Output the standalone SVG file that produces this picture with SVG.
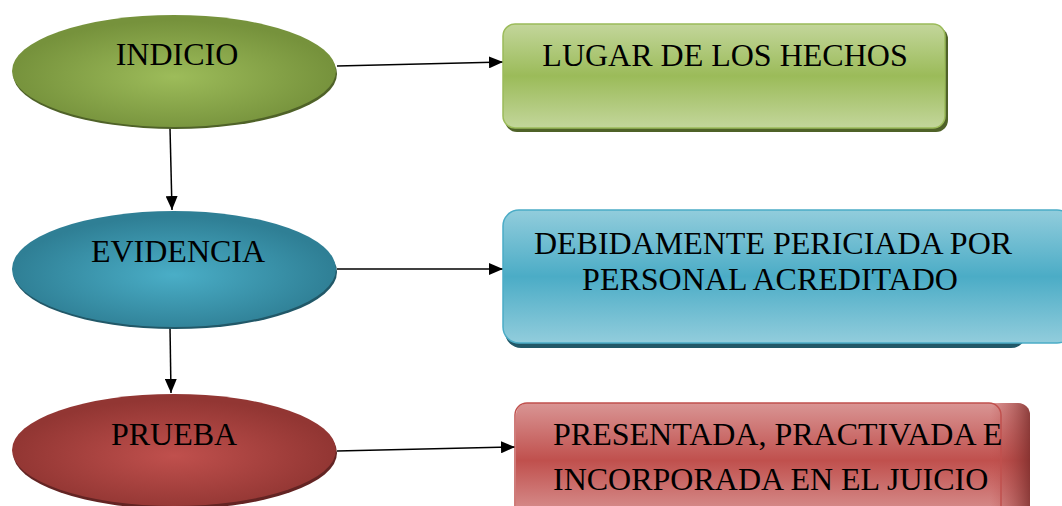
<svg xmlns="http://www.w3.org/2000/svg" width="1062" height="506" viewBox="0 0 1062 506">
<defs>
<radialGradient id="gE" cx="0.5" cy="0.55" r="0.5"><stop offset="0" stop-color="#9dbc5a"/><stop offset="1" stop-color="#76923c"/></radialGradient>
<radialGradient id="bE" cx="0.5" cy="0.55" r="0.5"><stop offset="0" stop-color="#4aaec7"/><stop offset="1" stop-color="#2f7f95"/></radialGradient>
<radialGradient id="rE" cx="0.5" cy="0.55" r="0.5"><stop offset="0" stop-color="#c0504d"/><stop offset="1" stop-color="#923633"/></radialGradient>
<linearGradient id="gR" x1="0" y1="0" x2="0" y2="1"><stop offset="0" stop-color="#c3d69b"/><stop offset="0.5" stop-color="#9bbb59"/><stop offset="1" stop-color="#c3d69b"/></linearGradient>
<linearGradient id="bR" x1="0" y1="0" x2="0" y2="1"><stop offset="0" stop-color="#92cddc"/><stop offset="0.5" stop-color="#4bacc6"/><stop offset="1" stop-color="#92cddc"/></linearGradient>
<linearGradient id="rR" x1="0" y1="0" x2="0" y2="1"><stop offset="0" stop-color="#d99594"/><stop offset="0.5" stop-color="#c0504d"/><stop offset="1" stop-color="#d99594"/></linearGradient>
<linearGradient id="rEdge" x1="0" y1="0" x2="1" y2="0"><stop offset="0" stop-color="#c0504d" stop-opacity="0"/><stop offset="1" stop-color="#7a2b29" stop-opacity="0.8"/></linearGradient>
<marker id="ah" markerWidth="14" markerHeight="12" refX="14" refY="6" orient="auto" markerUnits="userSpaceOnUse"><path d="M0,0 L14,6 L0,12 Z" fill="#000"/></marker>
</defs>
<style>
text{font-family:"Liberation Serif","Times New Roman",serif;font-size:32px;fill:#000}
.c{stroke:#000;stroke-width:1.5;fill:none;marker-end:url(#ah)}
</style>
<rect width="1062" height="506" fill="#fff"/>
<g id="connectors">
<line class="c" x1="337" y1="66" x2="503" y2="62"/>
<line class="c" x1="170" y1="128" x2="172" y2="210"/>
<line class="c" x1="337" y1="269" x2="503" y2="269"/>
<line class="c" x1="170" y1="327" x2="171" y2="393"/>
<line class="c" x1="337" y1="451" x2="515" y2="447"/>
</g>
<g id="indicio">
<ellipse cx="175" cy="74" rx="162" ry="55" fill="#4f6228"/>
<ellipse cx="174" cy="71" rx="162" ry="56" fill="url(#gE)"/>
<text x="177" y="65" text-anchor="middle">INDICIO</text>
</g>
<g id="lugar">
<rect x="505" y="27" width="443" height="105" rx="12" fill="#4f6228"/>
<rect x="503" y="24" width="442" height="104" rx="12" fill="url(#gR)" stroke="#9bbb59" stroke-width="1.5"/>
<text x="725" y="66" text-anchor="middle">LUGAR DE LOS HECHOS</text>
</g>
<g id="evidencia">
<ellipse cx="175" cy="272" rx="162" ry="57" fill="#215868"/>
<ellipse cx="174" cy="269" rx="162" ry="58" fill="url(#bE)"/>
<text x="178" y="262" text-anchor="middle">EVIDENCIA</text>
</g>
<g id="debidamente">
<rect x="505" y="214" width="522" height="134" rx="16" fill="#215868"/>
<rect x="503" y="210" width="570" height="133" rx="16" fill="url(#bR)" stroke="#4bacc6" stroke-width="1.5"/>
<text x="773" y="254" text-anchor="middle">DEBIDAMENTE PERICIADA POR</text>
<text x="770" y="290" text-anchor="middle">PERSONAL ACREDITADO</text>
</g>
<g id="prueba">
<ellipse cx="175" cy="453" rx="162" ry="56" fill="#632423"/>
<ellipse cx="174" cy="450" rx="162" ry="56" fill="url(#rE)"/>
<text x="174" y="445" text-anchor="middle">PRUEBA</text>
</g>
<g id="presentada">
<rect x="516" y="403" width="514" height="115" rx="12" fill="url(#rR)"/>
<rect x="990" y="403" width="40" height="115" rx="12" fill="url(#rEdge)"/>
<rect x="515" y="403" width="486" height="115" rx="12" fill="none" stroke="#c0504d" stroke-width="1.5"/>
<text x="553" y="445">PRESENTADA, PRACTIVADA E</text>
<text x="553" y="490">INCORPORADA EN EL JUICIO</text>
</g>
</svg>
